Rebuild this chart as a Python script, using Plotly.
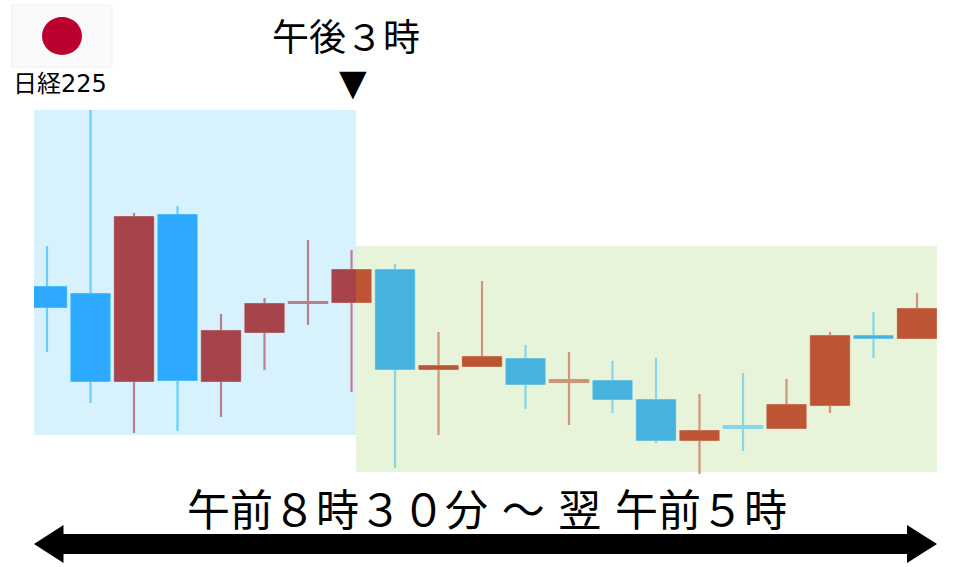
import plotly.graph_objects as go

# candles (session index and price in arbitrary chart units)
tokyo_x = [0, 1, 2, 3, 4, 5, 6, 7]
tokyo_open = [280, 273, 186, 352, 186, 235, 264, 265]
tokyo_high = [321, 457, 354, 361, 253, 269, 327, 317]
tokyo_low = [215, 164, 134, 136, 150, 197, 242, 175]
tokyo_close = [260, 186, 350, 187, 236, 263, 265, 297]

overnight_x = [7, 8, 9, 10, 11, 12, 13, 14, 15, 16, 17, 18, 19, 20]
overnight_open = [265, 297, 198, 201, 208, 185, 186, 167, 127, 141, 139, 162, 231, 229]
overnight_high = [297, 303, 235, 286, 222, 215, 206, 209, 173, 194, 188, 235, 255, 274]
overnight_low = [265, 99, 132, 201, 158, 142, 154, 124, 93, 116, 138, 154, 209, 229]
overnight_close = [297, 198, 201, 210, 183, 187, 168, 127, 136, 139, 162, 231, 229, 258]

# near-doji sessions drawn only in the pale wick colour
pale_sessions = [6, 12, 16]

W, H = 960, 567


def px(x):
    return x / W


def py(y):
    return 1 - y / H


def candles(x, o, h, l, c, xaxis, up_fill, up_line, down_fill, down_line, width):
    return go.Candlestick(
        x=x, open=o, high=h, low=l, close=c,
        xaxis=xaxis, yaxis="y",
        increasing=dict(fillcolor=up_fill, line=dict(color=up_line, width=width)),
        decreasing=dict(fillcolor=down_fill, line=dict(color=down_line, width=width)),
        whiskerwidth=0,
        showlegend=False,
        hoverinfo="skip",
    )


def add_session(fig, x, o, h, l, c, xaxis, up_fill, up_line, down_fill, down_line):
    # wicks first in the pale colour, solid bodies on top
    fig.add_trace(candles(x, o, h, l, c, xaxis, up_line, up_line, down_line, down_line, 2.2))
    keep = [i for i in range(len(x)) if x[i] not in pale_sessions]
    bx = [x[i] for i in keep]
    bo = [o[i] for i in keep]
    bc = [c[i] for i in keep]
    bh = [max(a, b) for a, b in zip(bo, bc)]
    bl = [min(a, b) for a, b in zip(bo, bc)]
    fig.add_trace(candles(bx, bo, bh, bl, bc, xaxis, up_fill, up_fill, down_fill, down_fill, 1))


def poly(points, color):
    path = "M " + " L ".join(f"{px(a):.5f},{py(b):.5f}" for a, b in points) + " Z"
    return dict(type="path", xref="paper", yref="paper", path=path,
                fillcolor=color, line=dict(width=0), layer="below")


def box(x0, y0, x1, y1, color, line=None, kind="rect"):
    return dict(type=kind, xref="paper", yref="paper",
                x0=px(x0), x1=px(x1), y0=py(y0), y1=py(y1),
                fillcolor=color, line=dict(width=1, color=line) if line else dict(width=0),
                layer="below")


fig = go.Figure()
add_session(fig, tokyo_x, tokyo_open, tokyo_high, tokyo_low, tokyo_close, "x",
            "#a6434b", "#bd7f89", "#2daaff", "#66ceff")
add_session(fig, overnight_x, overnight_open, overnight_high, overnight_low, overnight_close, "x2",
            "#bd5434", "#d09478", "#48b2de", "#86d6e8")

shapes = [
    box(34, 110, 356, 435, "#d7f2fc"),
    box(356, 246, 937, 472, "#e8f4da"),
    box(12, 5, 112, 67, "#fafafa", "#eeeeee"),
    box(42, 17, 82, 55, "#bc002d", kind="circle"),
    poly([(34, 544), (63.5, 525), (63.5, 534), (907, 534), (907, 525), (937, 544),
          (907, 563), (907, 554), (63.5, 554), (63.5, 563)], "#000000"),
]

jp_font = "DejaVu Sans, Noto Sans CJK JP"
labels = [
    ("日経225", 60, 84, 24),
    ("午後３時", 346, 38, 37),
    ("▼", 353, 82, 36),
    ("午前８時３０分 ～ 翌 午前５時", 487, 511, 43),
]
annotations = [
    dict(text=t, x=px(x), y=py(y), xref="paper", yref="paper", showarrow=False,
         xanchor="center", yanchor="middle", font=dict(family=jp_font, size=s, color="#000000"))
    for t, x, y, s in labels
]

fig.update_layout(
    width=W, height=H,
    margin=dict(l=0, r=0, t=0, b=0),
    paper_bgcolor="#ffffff",
    plot_bgcolor="rgba(0,0,0,0)",
    boxgap=0.12, boxgroupgap=0,
    shapes=shapes,
    annotations=annotations,
    xaxis=dict(domain=[px(34), px(356)], range=[-0.299, 7.103], visible=False,
               rangeslider=dict(visible=False), anchor="y"),
    xaxis2=dict(domain=[px(356), px(937)], range=[7.103, 20.46], visible=False,
                rangeslider=dict(visible=False), anchor="y"),
    yaxis=dict(domain=[0, 1], range=[0, H], visible=False),
)

# the default page margin would push the chart 8px off
fig.write_html("out.html", config=dict(displayModeBar=False),
               post_script="document.body.style.margin = '0';")
